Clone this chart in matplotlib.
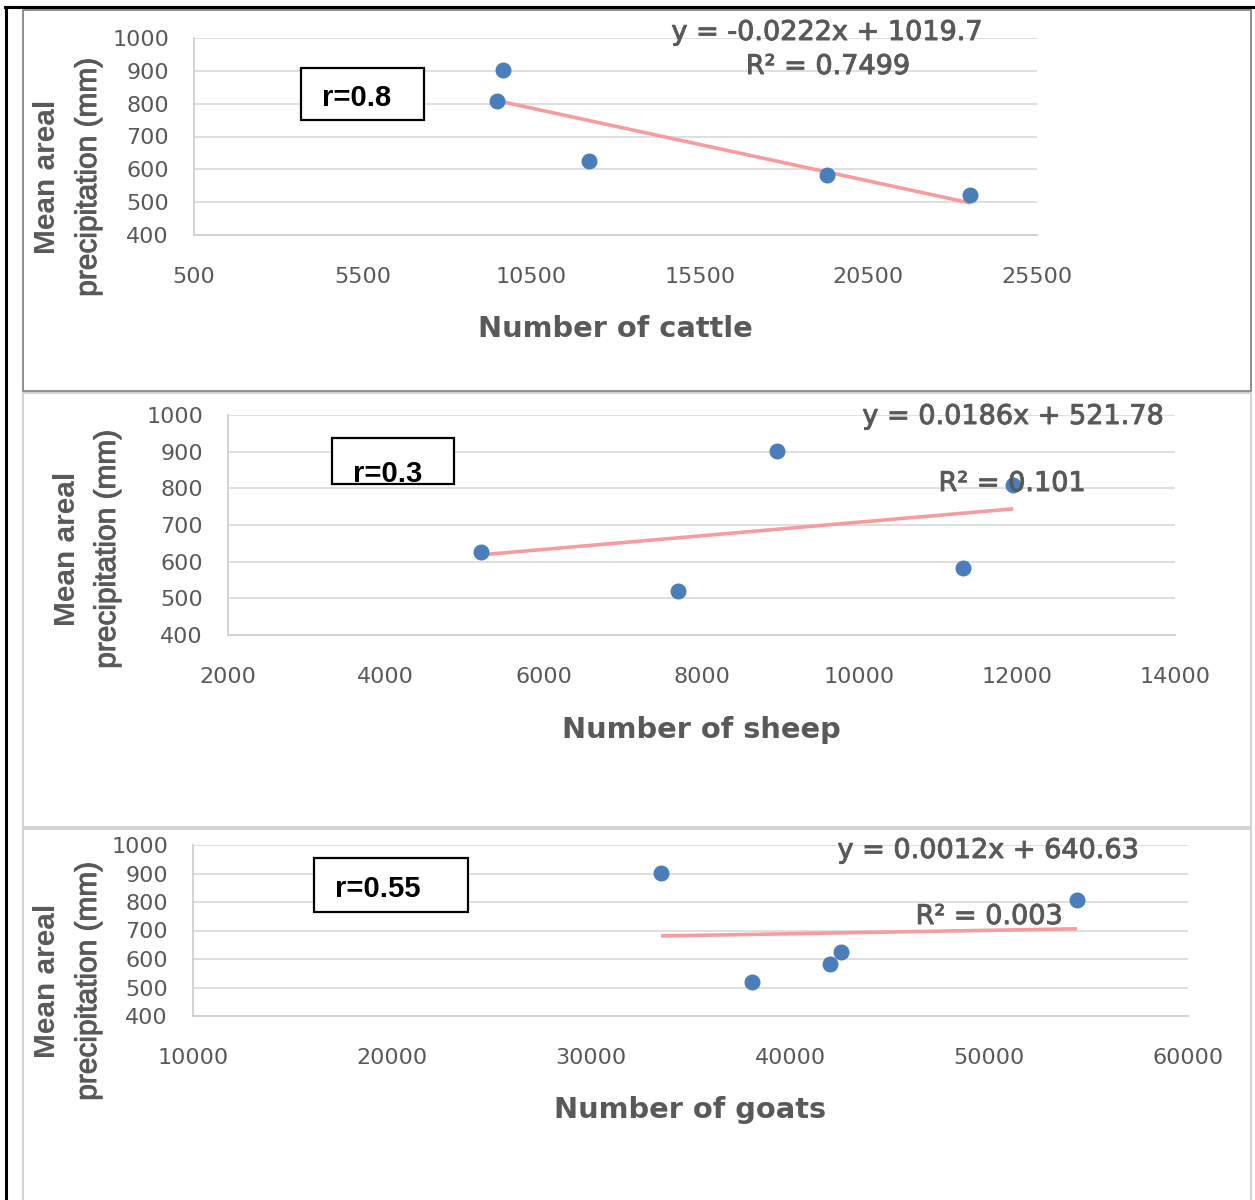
import matplotlib
matplotlib.use("Agg")
import matplotlib.pyplot as plt
import matplotlib.patheffects as pe
from matplotlib.patches import Rectangle
import numpy as np

# mean areal precipitation per region (mm), same regions in every panel
precip = [902, 808, 626, 582, 521]

cattle = [9665, 9490, 12220, 19280, 23520]
sheep = [8960, 11950, 5210, 11310, 7700]
goats = [33520, 54420, 42560, 42010, 38090]

# trendline coefficients as printed on the chart
slopes = [-0.0222, 0.0186, 0.0012]
intercepts = [1019.7, 521.78, 640.63]
eq_labels = ["y = -0.0222x + 1019.7", "y = 0.0186x + 521.78", "y = 0.0012x + 640.63"]
r2_labels = ["R² = 0.7499", "R² = 0.101", "R² = 0.003"]
r_labels = ["r=0.8", "r=0.3", "r=0.55"]
xlabels = ["Number of cattle", "Number of sheep", "Number of goats"]
xlims = [(500, 25500), (2000, 14000), (10000, 60000)]
xsteps = [5000, 2000, 10000]

W, H = 1255, 1200
GRAY = "#595959"
BLUE = "#4a7ebb"
PINK = "#f79c9e"

fig = plt.figure(figsize=(W / 100, H / 100), dpi=100)
thick = [pe.Stroke(linewidth=0.7, foreground=GRAY), pe.Normal()]


def fx(px):
    return px / W


def fy(py):
    return 1 - py / H


def box(x0, y0, x1, y1, color, lw):
    r = Rectangle((fx(x0), fy(y1)), fx(x1) - fx(x0), fy(y0) - fy(y1),
                  transform=fig.transFigure, fill=False, edgecolor=color, lw=lw)
    fig.add_artist(r)
    return r


# outer frame and panel borders
fig.add_artist(plt.Line2D([fx(5), fx(1255)], [fy(7), fy(7)], color="black", lw=2.2, transform=fig.transFigure))
fig.add_artist(plt.Line2D([fx(6), fx(6)], [fy(7), fy(1200)], color="black", lw=2.2, transform=fig.transFigure))
box(23, 10, 1251, 391, "#d4d4d4", 1.5)
box(23, 393, 1251, 827, "#d4d4d4", 1.5)
box(23, 829, 1251, 1210, "#d4d4d4", 1.5)
box(23, 10, 1251, 391, "#8a8a8a", 1.3)

# axes rectangles in pixels: left, right, top, bottom
axes_px = [(194, 1037, 38, 235), (228, 1175, 415, 635), (193, 1188, 845, 1016)]
xs_all = [cattle, sheep, goats]

# label positions in pixels
ylab_x = [(47, 88), (67, 107), (47, 88)]
ylab_y = [177, 549, 981]
xlab_pos = [(615, 337), (701, 738), (690, 1118)]
eq_pos = [(827, 40), (1013, 424), (988, 858)]
r2_pos = [(828, 74), (1012, 491), (989, 924)]
rbox = [(301, 68, 424, 120), (332, 438, 454, 484), (314, 858, 468, 912)]
rtext = [(322, 106), (353, 482), (335, 897)]

for i in range(3):
    l, r, t, b = axes_px[i]
    ax = fig.add_axes([fx(l), fy(b), fx(r) - fx(l), fy(t) - fy(b)])
    xs = xs_all[i]
    ax.set_xlim(*xlims[i])
    ax.set_ylim(400, 1000)
    ax.set_xticks(np.arange(xlims[i][0], xlims[i][1] + 1, xsteps[i]))
    ax.set_yticks(np.arange(400, 1001, 100))
    ax.grid(axis="y", color="#d9d9d9", lw=1.2)
    ax.set_axisbelow(True)
    for s in ["top", "right"]:
        ax.spines[s].set_visible(False)
    for s in ["left", "bottom"]:
        ax.spines[s].set_color("#d0d0d0")
        ax.spines[s].set_linewidth(1.3)
    ax.tick_params(length=0, labelsize=16, labelcolor=GRAY)
    ax.tick_params(axis="y", pad=18)
    ax.tick_params(axis="x", pad=23)

    x0, x1 = min(xs), max(xs)
    ax.plot([x0, x1], [slopes[i] * x0 + intercepts[i], slopes[i] * x1 + intercepts[i]],
            color=PINK, lw=2.6, solid_capstyle="butt", zorder=2)
    ax.plot(xs, precip, "o", color=BLUE, ms=10.5, mec=BLUE, zorder=3)

    fig.text(fx(eq_pos[i][0]), fy(eq_pos[i][1]), eq_labels[i], ha="center", va="baseline",
             fontsize=19.5, color=GRAY, zorder=5, path_effects=thick)
    fig.text(fx(r2_pos[i][0]), fy(r2_pos[i][1]), r2_labels[i], ha="center", va="baseline",
             fontsize=19.5, color=GRAY, zorder=5, path_effects=thick)

    fig.text(fx(xlab_pos[i][0]), fy(xlab_pos[i][1]), xlabels[i], ha="center", va="baseline",
             fontsize=20.8, fontweight="bold", color=GRAY)

    fig.text(fx(ylab_x[i][0]), fy(ylab_y[i]), "Mean areal", rotation=90, ha="center", va="center",
             fontsize=21.5, fontweight="bold", color=GRAY, family="Liberation Sans")
    fig.text(fx(ylab_x[i][1]), fy(ylab_y[i]), "precipitation (mm)", rotation=90, ha="center",
             va="center", fontsize=21.5, color=GRAY, family="Liberation Sans", path_effects=thick)

    bx = rbox[i]
    rect = Rectangle((fx(bx[0]), fy(bx[3])), fx(bx[2]) - fx(bx[0]), fy(bx[1]) - fy(bx[3]),
                     transform=fig.transFigure, facecolor="white", edgecolor="black", lw=1.6, zorder=4)
    fig.add_artist(rect)
    t = fig.text(fx(rtext[i][0]), fy(rtext[i][1]), r_labels[i], ha="left", va="baseline",
                 fontsize=21, fontweight="bold", color="black", family="Liberation Sans", zorder=5)
    t.set_clip_on(True)
    t.set_clip_path(rect)

fig.savefig("out.png", dpi=100, facecolor="white")
